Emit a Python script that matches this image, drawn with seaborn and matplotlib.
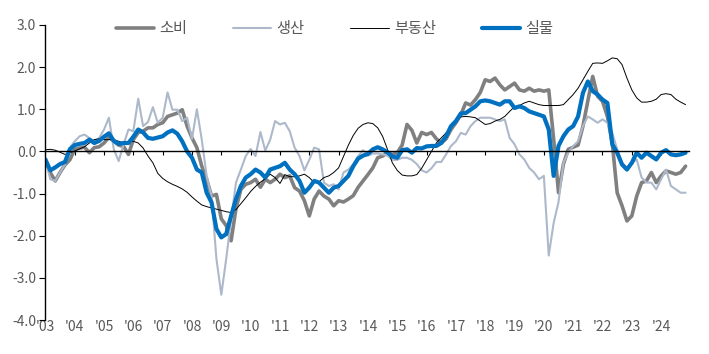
import numpy as np
import pandas as pd
import matplotlib
matplotlib.use('Agg')
import matplotlib.pyplot as plt
import seaborn as sns

# bi-monthly points, Jan 2003 .. Nov 2024
years = 2003 + np.arange(132) / 6

silmul = [-0.19, -0.45, -0.38, -0.30, -0.25, 0.05, 0.15, 0.18, 0.20, 0.28,
          0.20, 0.25, 0.35, 0.43, 0.25, 0.18, 0.20, 0.20, 0.35, 0.52,
          0.45, 0.32, 0.30, 0.33, 0.36, 0.45, 0.50, 0.42, 0.24, 0.00,
          -0.15, -0.43, -0.50, -0.98, -1.21, -1.84, -2.04, -1.96, -1.53, -1.13,
          -0.82, -0.62, -0.54, -0.43, -0.50, -0.62, -0.43, -0.39, -0.35, -0.27,
          -0.43, -0.54, -0.70, -0.98, -0.86, -0.70, -0.74, -0.86, -0.98, -0.86,
          -0.82, -0.70, -0.58, -0.35, -0.17, -0.10, -0.06, 0.05, 0.10, 0.05,
          -0.02, -0.12, -0.15, 0.03, 0.05, -0.03, 0.08, 0.07, 0.12, 0.13,
          0.13, 0.20, 0.36, 0.60, 0.72, 0.90, 0.91, 0.99, 1.07, 1.19,
          1.21, 1.19, 1.15, 1.11, 1.19, 1.19, 1.03, 1.07, 1.03, 0.95,
          0.91, 0.87, 0.83, 0.52, -0.58, 0.13, 0.36, 0.52, 0.60, 0.83,
          1.39, 1.66, 1.43, 1.35, 1.23, 1.15, 0.17, -0.03, -0.31, -0.43,
          -0.27, -0.03, -0.15, -0.03, -0.11, -0.19, -0.03, 0.03, -0.07, -0.09,
          -0.07, -0.03]

sobi = [-0.19, -0.50, -0.70, -0.50, -0.32, -0.20, 0.05, 0.08, 0.10, -0.03,
        0.09, 0.11, 0.20, 0.34, 0.24, 0.15, 0.12, -0.07, 0.28, 0.45,
        0.48, 0.56, 0.56, 0.64, 0.68, 0.83, 0.87, 0.91, 0.99, 0.60,
        0.32, 0.09, -0.35, -0.66, -1.06, -1.02, -1.60, -1.76, -2.12, -1.36,
        -0.90, -0.78, -0.74, -0.66, -0.85, -0.66, -0.74, -0.66, -0.54, -0.62,
        -0.58, -0.86, -0.94, -1.17, -1.53, -1.13, -0.94, -1.06, -1.13, -1.29,
        -1.17, -1.20, -1.13, -1.05, -0.85, -0.70, -0.55, -0.39, -0.15, -0.11,
        -0.03, -0.07, -0.03, 0.15, 0.64, 0.50, 0.20, 0.45, 0.40, 0.45,
        0.30, 0.20, 0.30, 0.52, 0.68, 0.87, 1.15, 1.10, 1.23, 1.40,
        1.70, 1.66, 1.74, 1.58, 1.46, 1.54, 1.62, 1.46, 1.43, 1.50,
        1.43, 1.46, 1.43, 1.46, 0.30, -0.98, -0.30, 0.05, 0.10, 0.15,
        0.60, 1.20, 1.78, 1.31, 1.19, 0.83, 0.20, -0.98, -1.29, -1.65,
        -1.53, -1.06, -0.74, -0.70, -0.50, -0.74, -0.58, -0.46, -0.50, -0.54,
        -0.50, -0.35]

saengsan = [-0.19, -0.66, -0.70, -0.50, -0.31, 0.09, 0.24, 0.36, 0.40, 0.32,
            0.24, 0.32, 0.52, 0.80, 0.05, -0.23, 0.17, 0.52, 0.48, 1.25,
            0.60, 0.70, 1.05, 0.68, 0.80, 1.40, 0.99, 0.99, 0.72, 0.80,
            0.30, 1.00, 0.28, -0.58, -1.06, -2.55, -3.40, -2.55, -1.61, -0.74,
            -0.43, -0.11, 0.06, -0.11, 0.46, 0.02, 0.28, 0.72, 0.64, 0.68,
            0.48, 0.09, -0.11, -0.45, -0.20, 0.09, 0.05, -0.74, -0.82, -0.78,
            -0.90, -0.50, -0.43, -0.31, -0.11, 0.03, -0.10, -0.05, -0.05, -0.07,
            -0.10, -0.20, -0.20, -0.15, -0.15, -0.20, -0.30, -0.45, -0.50, -0.40,
            -0.25, -0.25, -0.07, 0.13, 0.24, 0.44, 0.40, 0.60, 0.72, 0.80,
            0.80, 0.80, 0.76, 0.72, 0.76, 0.32, 0.17, -0.07, -0.19, -0.39,
            -0.50, -0.66, -0.58, -2.47, -1.70, -1.20, -0.27, -0.03, 0.13, 0.24,
            0.60, 0.83, 0.76, 0.68, 0.76, 0.68, 0.44, 0.05, -0.27, -0.39,
            -0.27, -0.19, -0.62, -0.74, -0.74, -0.90, -0.66, -0.43, -0.82, -0.90,
            -0.98, -0.98]

budongsan = [0.04, 0.05, 0.03, -0.02, -0.07, -0.03, 0.01, 0.06, 0.11, 0.20,
             0.28, 0.30, 0.28, 0.28, 0.28, 0.24, 0.20, 0.24, 0.24, 0.20,
             0.08, -0.11, -0.27, -0.52, -0.64, -0.72, -0.78, -0.83, -0.89, -0.97,
             -1.08, -1.18, -1.27, -1.31, -1.34, -1.37, -1.40, -1.43, -1.45, -1.38,
             -1.24, -1.10, -0.95, -0.83, -0.73, -0.65, -0.54, -0.62, -0.76, -0.55,
             -0.60, -0.60, -0.58, -0.54, -0.62, -0.74, -0.72, -0.62, -0.58, -0.50,
             -0.39, -0.12, 0.15, 0.38, 0.55, 0.64, 0.68, 0.66, 0.56, 0.36,
             0.05, -0.27, -0.45, -0.56, -0.58, -0.58, -0.55, -0.40, -0.20, 0.00,
             0.20, 0.32, 0.44, 0.56, 0.72, 0.82, 0.83, 0.82, 0.80, 0.72,
             0.64, 0.66, 0.72, 0.76, 0.83, 0.95, 1.06, 1.09, 1.15, 1.19,
             1.15, 1.11, 1.09, 1.09, 1.09, 1.09, 1.11, 1.23, 1.35, 1.50,
             1.70, 1.90, 2.09, 2.10, 2.09, 2.15, 2.22, 2.20, 2.06, 1.74,
             1.46, 1.27, 1.17, 1.17, 1.19, 1.24, 1.35, 1.37, 1.35, 1.24,
             1.17, 1.11]

series_names = ['소비', '생산', '부동산', '실물']
tick_years = list(range(2003, 2025))
tick_labels = ["'%02d" % (y % 100) for y in tick_years]
y_ticks = [3, 2, 1, 0, -1, -2, -3, -4]

df = pd.DataFrame({'t': years, '소비': sobi, '생산': saengsan,
                   '부동산': budongsan, '실물': silmul})
long = df.melt(id_vars='t', var_name='series', value_name='v')

sns.set_style('white')
plt.rcParams['font.family'] = ['Noto Sans CJK KR', 'DejaVu Sans']

colors = {'소비': '#808080', '생산': '#adb9ca', '부동산': '#000000', '실물': '#0070c0'}
widths = {'소비': 2.6, '생산': 1.5, '부동산': 0.7, '실물': 3.0}
grey = '#595959'

fig = plt.figure(figsize=(7.09, 3.54), dpi=100)
ax = fig.add_axes([44.5 / 709, 1 - 320 / 354, (689 - 44.5) / 709, (320 - 25) / 354])

for name in series_names:
    sub = long[long['series'] == name]
    sns.lineplot(data=sub, x='t', y='v', ax=ax, color=colors[name],
                 linewidth=widths[name], label=name)

ax.set_xlim(2003 - 0.03, 2024.95)
ax.set_ylim(-4, 3)
ax.set_xlabel('')
ax.set_ylabel('')

ax.set_yticks(y_ticks)
ax.set_yticklabels(['%.1f' % v for v in y_ticks], color=grey, fontsize=10)
ax.tick_params(axis='y', direction='out', length=4, width=0.8, color='black', pad=2, left=True)

# zero line acts as the x axis with tick marks
ax.spines['bottom'].set_position(('data', 0))
ax.spines['bottom'].set_linewidth(1.0)
ax.spines['bottom'].set_color('black')
ax.set_xticks(tick_years)
ax.tick_params(axis='x', direction='out', length=3, width=0.8, color='black',
               labelbottom=False, bottom=True)
ax.spines['top'].set_visible(False)
ax.spines['right'].set_visible(False)
ax.spines['left'].set_color('black')
ax.spines['left'].set_linewidth(1.0)

sec = ax.secondary_xaxis('bottom')
sec.set_xticks(tick_years)
sec.set_xticklabels(tick_labels, color=grey, fontsize=10)
sec.tick_params(length=0, pad=0)
sec.spines['bottom'].set_visible(False)

leg = ax.legend(loc='center', bbox_to_anchor=(0.45, 0.988), ncol=4, frameon=False,
                fontsize=11, handlelength=2.5, columnspacing=3.0, handletextpad=0.35,
                borderaxespad=0)
for txt in leg.get_texts():
    txt.set_color(grey)

fig.savefig('out.png', dpi=100)
